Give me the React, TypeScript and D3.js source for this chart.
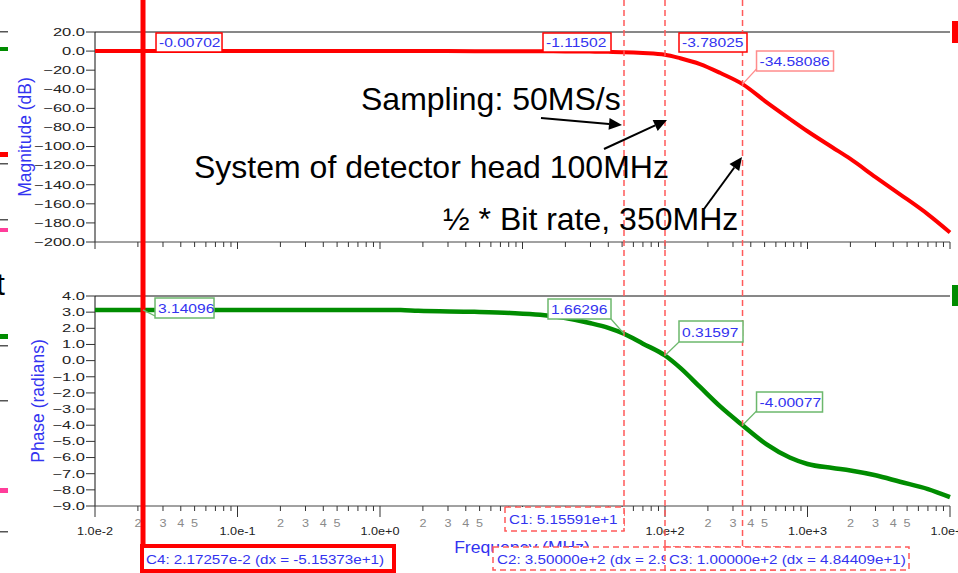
import React from 'react';
import * as d3 from 'd3';

// frequency response
const freqMHz = [0.01, 0.1, 1, 1.4, 1.85, 4.6, 8.2, 13.3, 20, 29.6, 40, 51.56, 70, 100, 128, 176, 245, 350, 520, 750, 1000, 1500, 2000, 3000, 4460, 7000, 10000];
const magnitudeDb = [-0.007, -0.007, -0.01, -0.01, -0.02, -0.05, -0.1, -0.2, -0.35, -0.5, -0.8, -1.115, -2.0, -3.78, -7.5, -13.6, -23, -34.58, -54, -71, -84, -101, -113, -132, -150, -171, -190];
const phaseRad = [3.141, 3.141, 3.14, 3.13, 3.08, 3.02, 2.95, 2.84, 2.64, 2.33, 2.03, 1.663, 1.05, 0.316, -0.45, -1.63, -2.85, -4.0, -5.2, -6.0, -6.4, -6.65, -6.8, -7.1, -7.5, -7.95, -8.45];

const magTicks = [20, 0, -20, -40, -60, -80, -100, -120, -140, -160, -180, -200];
const phaseTicks = [4, 3, 2, 1, 0, -1, -2, -3, -4, -5, -6, -7, -8, -9];
const decades = [1e-2, 1e-1, 1e0, 1e1, 1e2, 1e3, 1e4];
const decadeLabels = ['1.0e-2', '1.0e-1', '1.0e+0', '1.0e+1', '1.0e+2', '1.0e+3', '1.0e+4'];
const minorSteps = [2, 3, 4, 5, 6, 7, 8, 9];
const labeledMinor = [2, 3, 4, 5];

// cursors (MHz)
const cursorC4 = 2.17257e-2;
const cursorC1 = 51.5591;
const cursorC3 = 100;
const cursorC2 = 350;
const magReadouts = ['-0.00702', '-1.11502', '-3.78025', '-34.58086'];
const magAtCursor = [-0.00702, -1.11502, -3.78025, -34.58086];
const phaseReadouts = ['3.14096', '1.66296', '0.31597', '-4.00077'];
const phaseAtCursor = [3.14096, 1.66296, 0.31597, -4.00077];

const FONT = '"Liberation Sans", Arial, Helvetica, sans-serif';
const BLUE = '#3333f0';
const RED = '#ff0000';
const DASHRED = '#ff5a5a';
const GREEN = '#008c00';

const x = d3.scaleLog().domain([1e-2, 1e4]).range([95, 950]);
const yMag = d3.scaleLinear().domain([-200, 20]).range([242, 32]);
const yPh = d3.scaleLinear().domain([-9, 4]).range([506, 296]);

const magLine = d3.line<number>()
  .x((_, i) => x(freqMHz[i]))
  .y(d => yMag(d))
  .curve(d3.curveMonotoneX);
const phaseLine = d3.line<number>()
  .x((_, i) => x(freqMHz[i]))
  .y(d => yPh(d))
  .curve(d3.curveMonotoneX);

const minorTicks: number[] = [];
decades.slice(0, -1).forEach(d => minorSteps.forEach(m => minorTicks.push(d * m)));
const mantissa = (d: number) => Math.round(d / Math.pow(10, Math.floor(Math.log10(d) + 1e-9)));

// the C1 readout box hides the axis labels under it
const c1BoxLeft = 505;
const hiddenByC1 = (px: number) => px > c1BoxLeft - 6 && px < x(cursorC1) + 4;

const Txt = ({ x, y, sx = 1, size, fill, anchor = 'start', children, dy }: any) => (
  <text transform={`translate(${x},${y}) scale(${sx},1)`} fontSize={size} fill={fill}
    textAnchor={anchor} dy={dy} fontFamily={FONT}>{children}</text>
);

const Readout = ({ bx, by, w, h, stroke, text }: any) => (
  <g>
    <rect x={bx} y={by} width={w} height={h} fill="#fff" stroke={stroke} strokeWidth={1.5} />
    <Txt x={bx + 3} y={by + h - 5} sx={1.2} size={13} fill={BLUE}>{text}</Txt>
  </g>
);

const Arrow = ({ x1, y1, x2, y2 }: any) => {
  const a = Math.atan2(y2 - y1, x2 - x1);
  const L = 13, W = 6;
  const bx = x2 - L * Math.cos(a), by = y2 - L * Math.sin(a);
  const p1 = [bx + W * Math.sin(a), by - W * Math.cos(a)];
  const p2 = [bx - W * Math.sin(a), by + W * Math.cos(a)];
  return (
    <g>
      <line x1={x1} y1={y1} x2={bx} y2={by} stroke="#000" strokeWidth={2} />
      <polygon points={`${x2},${y2} ${p1[0]},${p1[1]} ${p2[0]},${p2[1]}`} fill="#000" />
    </g>
  );
};

const XAxis = ({ y0, labels }: any) => (
  <g>
    <line x1={95} x2={950} y1={y0} y2={y0} stroke="#444" strokeWidth={1} />
    {decades.map(d => (
      <line key={d} x1={x(d)} x2={x(d)} y1={y0} y2={y0 + (labels ? 11 : 7)} stroke="#333" />
    ))}
    {minorTicks.map(d => (
      <line key={d} x1={x(d)} x2={x(d)} y1={y0} y2={y0 + 5} stroke="#333" />
    ))}
    {labels && decades.map((d, i) => hiddenByC1(x(d)) ? null : (
      <Txt key={d} x={x(d)} y={y0 + 29} sx={1.15} size={11} fill="#222" anchor="middle">{decadeLabels[i]}</Txt>
    ))}
    {labels && minorTicks.filter(d => labeledMinor.includes(mantissa(d)) && !hiddenByC1(x(d))).map(d => (
      <Txt key={'m' + d} x={x(d)} y={y0 + 21} sx={1.15} size={11} fill="#8a8a8a" anchor="middle">
        {mantissa(d)}
      </Txt>
    ))}
  </g>
);

const YAxis = ({ scale, ticks, top, bottom }: any) => (
  <g>
    <line x1={95} x2={950} y1={top} y2={top} stroke="#111" />
    <line x1={95} x2={95} y1={top} y2={bottom} stroke="#111" />
    {ticks.map((t: number) => (
      <g key={t}>
        <line x1={86} x2={95} y1={scale(t)} y2={scale(t)} stroke="#333" />
        <Txt x={85} y={scale(t)} dy="0.35em" sx={1.5} size={11} fill="#222" anchor="end">{d3.format('.1f')(t)}</Txt>
      </g>
    ))}
  </g>
);

export default function App() {
  const xC4 = x(cursorC4), xC1 = x(cursorC1), xC3 = x(cursorC3), xC2 = x(cursorC2);
  return (
    <svg width={958} height={573} style={{ position: 'absolute', left: 0, top: 0, background: '#fff' }}>
      <rect width={958} height={573} fill="#fff" />

      {/* slide edge remnants */}
      <g>
        <rect x={0} y={31} width={8} height={1.5} fill="#555" />
        <rect x={0} y={47} width={8} height={4} fill={GREEN} />
        <rect x={0} y={152} width={8} height={5} fill={RED} />
        <rect x={0} y={163} width={8} height={1.5} fill="#555" />
        <rect x={0} y={219} width={8} height={1.5} fill="#555" />
        <rect x={0} y={228} width={8} height={4} fill="#ff3d9a" />
        <rect x={0} y={334} width={8} height={5} fill={GREEN} />
        <rect x={0} y={345} width={8} height={1.5} fill="#555" />
        <rect x={0} y={400} width={8} height={1.5} fill="#555" />
        <rect x={0} y={488} width={8} height={5} fill="#ff3d9a" />
        <rect x={0} y={531} width={8} height={1.5} fill="#555" />
        <text x={-4} y={295} fontSize={32} fontFamily={FONT} fill="#000">t</text>
        <rect x={952} y={21} width={6} height={22} fill={RED} />
        <rect x={952} y={285} width={6} height={21} fill={GREEN} />
      </g>

      {/* axes */}
      <YAxis scale={yMag} ticks={magTicks} top={32} bottom={242} />
      <YAxis scale={yPh} ticks={phaseTicks} top={296} bottom={506} />
      <XAxis y0={242} labels={false} />
      <XAxis y0={506} labels={true} />

      <text transform="translate(25,137) rotate(-90)" textAnchor="middle" dy="0.35em" fontSize={17.5} fontFamily={FONT} fill={BLUE}>Magnitude (dB)</text>
      <text transform="translate(38,401) rotate(-90)" textAnchor="middle" dy="0.35em" fontSize={17.5} fontFamily={FONT} fill={BLUE}>Phase (radians)</text>
      <Txt x={522} y={553} sx={1.1} size={16} fill={BLUE} anchor="middle">Frequency (MHz)</Txt>

      {/* traces */}
      <path d={magLine(magnitudeDb) || ''} fill="none" stroke={RED} strokeWidth={4} />
      <path d={phaseLine(phaseRad) || ''} fill="none" stroke={GREEN} strokeWidth={4.5} />

      {/* cursors */}
      <line x1={xC1} x2={xC1} y1={0} y2={531} stroke={DASHRED} strokeWidth={1.5} strokeDasharray="6,4" />
      <line x1={xC3} x2={xC3} y1={0} y2={571} stroke={DASHRED} strokeWidth={1.5} strokeDasharray="6,4" />
      <line x1={xC2} x2={xC2} y1={0} y2={547} stroke={DASHRED} strokeWidth={1.5} strokeDasharray="6,4" />
      <line x1={xC4} x2={xC4} y1={0} y2={546} stroke={RED} strokeWidth={5} />

      {/* magnitude readouts */}
      <Readout bx={xC4 + 13} by={33} w={66} h={19} stroke={RED} text={magReadouts[0]} />
      <Readout bx={xC1 - 81} by={33} w={68} h={19} stroke={RED} text={magReadouts[1]} />
      <Readout bx={xC3 + 14} by={33} w={68} h={19} stroke={RED} text={magReadouts[2]} />
      <line x1={xC2} y1={yMag(magAtCursor[3])} x2={xC2 + 14} y2={69} stroke="#ff8c8c" strokeWidth={1.2} />
      <Readout bx={xC2 + 14} by={51} w={77} h={20} stroke="#ff8c8c" text={magReadouts[3]} />

      {/* phase readouts */}
      <line x1={xC4} y1={yPh(phaseAtCursor[0])} x2={xC4 + 14} y2={317} stroke="#6cb86c" strokeWidth={1.2} />
      <Readout bx={xC4 + 12} by={298} w={59} h={20} stroke="#6cb86c" text={phaseReadouts[0]} />
      <line x1={xC1} y1={yPh(phaseAtCursor[1])} x2={xC1 - 13} y2={319} stroke="#6cb86c" strokeWidth={1.2} />
      <Readout bx={xC1 - 76} by={299} w={63} h={20} stroke="#6cb86c" text={phaseReadouts[1]} />
      <line x1={xC3} y1={yPh(phaseAtCursor[2])} x2={xC3 + 14} y2={342} stroke="#6cb86c" strokeWidth={1.2} />
      <Readout bx={xC3 + 14} by={321} w={64} h={21} stroke="#6cb86c" text={phaseReadouts[2]} />
      <line x1={xC2} y1={yPh(phaseAtCursor[3])} x2={xC2 + 14} y2={411} stroke="#6cb86c" strokeWidth={1.2} />
      <Readout bx={xC2 + 14} by={392} w={66} h={20} stroke="#6cb86c" text={phaseReadouts[3]} />

      {/* cursor value boxes */}
      <rect x={c1BoxLeft} y={507} width={xC1 - c1BoxLeft} height={24} fill="#fff" stroke={DASHRED} strokeWidth={1.5} strokeDasharray="6,4" />
      <Txt x={509} y={524} sx={1.17} size={13} fill={BLUE}>C1: 5.15591e+1</Txt>
      <rect x={493} y={547} width={300} height={23} fill="#fff" stroke={DASHRED} strokeWidth={1.5} strokeDasharray="6,4" />
      <Txt x={497} y={564} sx={1.17} size={13} fill={BLUE}>C2: 3.50000e+2 (dx = 2.98441e+2)</Txt>
      <rect x={xC3} y={547} width={244} height={23} fill="#fff" stroke={DASHRED} strokeWidth={1.5} strokeDasharray="6,4" />
      <Txt x={xC3 + 4} y={564} sx={1.17} size={13} fill={BLUE}>C3: 1.00000e+2 (dx = 4.84409e+1)</Txt>
      <rect x={142} y={546} width={252} height={25} fill="#fff" stroke={RED} strokeWidth={4} />
      <Txt x={146} y={564} sx={1.17} size={13} fill={BLUE}>C4: 2.17257e-2 (dx = -5.15373e+1)</Txt>

      {/* slide annotations */}
      <text x={361} y={110} fontSize={32} fontFamily={FONT} fill="#000">Sampling: 50MS/s</text>
      <text x={194} y={178} fontSize={32} fontFamily={FONT} fill="#000">System of detector head 100MHz</text>
      <text x={443} y={230} fontSize={32} fontFamily={FONT} fill="#000">½ * Bit rate, 350MHz</text>
      <Arrow x1={541} y1={118} x2={622} y2={125} />
      <Arrow x1={604} y1={149} x2={667} y2={120} />
      <Arrow x1={704} y1={209} x2={742} y2={157} />
    </svg>
  );
}
